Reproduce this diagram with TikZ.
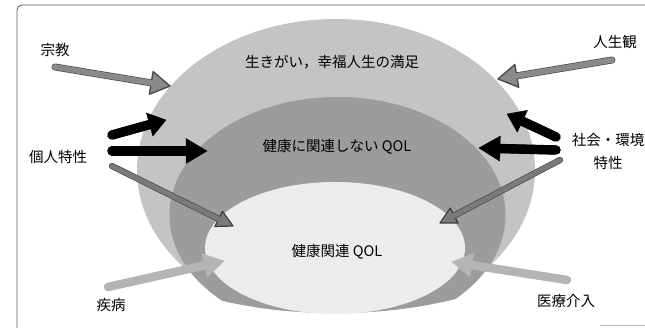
\documentclass[tikz,border=0pt]{standalone}
\usepackage{fontspec}
\setmainfont{Noto Sans CJK JP}
\usetikzlibrary{calc}
\definecolor{outerc}{HTML}{C4C4C4}
\definecolor{midc}{HTML}{9C9C9C}
\definecolor{innerc}{HTML}{ECECEC}
\definecolor{garrf}{HTML}{8A8A8A}
\definecolor{garrl}{HTML}{4D4D4D}
\definecolor{darrf}{HTML}{7A7A7A}
\definecolor{darrl}{HTML}{404040}
\definecolor{larrf}{HTML}{B4B4B4}
\definecolor{framec}{HTML}{5A5A5A}
\newcommand\blockarr[8]{%
  \coordinate (ba-h) at ($(#4)!#7!(#3)$);
  \draw[#2, line width=2*#5+2*#8, line cap=round] (#3) -- (ba-h);
  \filldraw[fill=#1, draw=#2, line width=2*#8, line join=round]
    ($(ba-h)!#6!90:(#4)$) -- (#4) -- ($(ba-h)!#6!-90:(#4)$) -- cycle;
  \draw[#1, line width=2*#5, line cap=round] (#3) -- ($(ba-h)!1pt!(#4)$);
}
\tikzset{
  lbl/.style={inner sep=0pt, font=\fontsize{14.5}{16}\selectfont},
  ctext/.style={inner sep=0pt, font=\fontsize{14.5}{16}\selectfont}
}
\begin{document}
\begin{tikzpicture}[x=1pt,y=-1pt]
\useasboundingbox (0,0) rectangle (645,328);
% frame
\draw[framec, line width=0.8pt, rounded corners=5pt] (17,335) -- (17,5) -- (650,5);
\draw[framec!40, line width=0.8pt] (600,325) -- (650,325);
% layers
\begin{scope}
  \clip (85,200) -- (85,0) -- (585,0) -- (585,200)
        arc[start angle=0, end angle=180, x radius=250, y radius=113] -- cycle;
  \fill[outerc] (336,170) ellipse [x radius=199, y radius=151];
  \fill[midc] (337.5,215) ellipse [x radius=168, y radius=118];
\end{scope}
\fill[innerc] (335,248) ellipse [x radius=130, y radius=66];
% texts
\node[ctext] (t1) at (332,62) {生きがい，幸福人生の満足};
\node[ctext] (t2) at (337,147) {健康に関連しない QOL};
\node[ctext] (t3) at (337,252) {健康関連 QOL};
% labels
\node[lbl] (rel) at (55,50) {宗教};
\node[lbl] (jin) at (615,42) {人生観};
\node[lbl] (kojin) at (58,157) {個人特性};
\node[lbl, anchor=east] (soc1) at (644.5,140) {社会・環境};
\node[lbl] (soc2) at (608,163) {特性};
\node[lbl] (dis) at (111,305) {疾病};
\node[lbl] (med) at (566,301) {医療介入};
% arrow coordinates
\coordinate (a1s) at (55,67);   \coordinate (a1e) at (170,86);
\coordinate (a2s) at (612,60);  \coordinate (a2e) at (498,79);
\coordinate (b1s) at (112,135); \coordinate (b1e) at (166,120);
\coordinate (b2s) at (112,151); \coordinate (b2e) at (207,151);
\coordinate (b3s) at (556,137); \coordinate (b3e) at (507,114);
\coordinate (b4s) at (556,150); \coordinate (b4e) at (479,148);
\coordinate (c1s) at (112,166); \coordinate (c1e) at (233,226);
\coordinate (c2s) at (560,160); \coordinate (c2e) at (440,223);
\coordinate (d1s) at (108,287); \coordinate (d1e) at (224,261);
\coordinate (d2s) at (567,280); \coordinate (d2e) at (452,262);
% arrows
\blockarr{garrf}{garrl}{a1s}{a1e}{2.8pt}{11.5pt}{19pt}{0.7pt}
\blockarr{garrf}{garrl}{a2s}{a2e}{2.8pt}{11.5pt}{19pt}{0.7pt}
\blockarr{black}{black}{b1s}{b1e}{4.5pt}{12pt}{17pt}{0.2pt}
\blockarr{black}{black}{b2s}{b2e}{4.5pt}{12.5pt}{21pt}{0.2pt}
\blockarr{black}{black}{b3s}{b3e}{4.5pt}{12pt}{17pt}{0.2pt}
\blockarr{black}{black}{b4s}{b4e}{4.5pt}{12.5pt}{21pt}{0.2pt}
\blockarr{darrf}{darrl}{c1s}{c1e}{2.5pt}{8.5pt}{16pt}{0.6pt}
\blockarr{darrf}{darrl}{c2s}{c2e}{2.5pt}{8.5pt}{16pt}{0.6pt}
\blockarr{larrf}{larrf}{d1s}{d1e}{4pt}{12pt}{20pt}{0.2pt}
\blockarr{larrf}{larrf}{d2s}{d2e}{4pt}{12pt}{20pt}{0.2pt}
\end{tikzpicture}
\end{document}
